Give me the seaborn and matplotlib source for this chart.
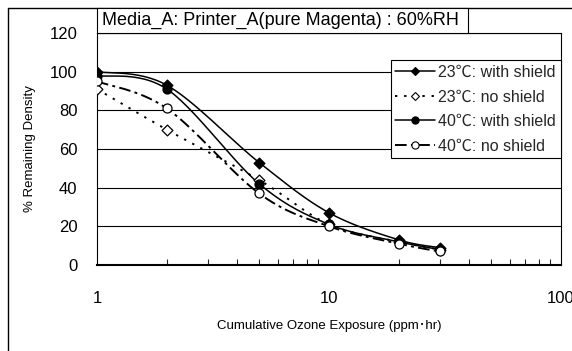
import numpy as np
import pandas as pd
import matplotlib
matplotlib.use("Agg")
import matplotlib.pyplot as plt
from matplotlib.lines import Line2D
from matplotlib.patches import Rectangle
import seaborn as sns

# ---- data ----
exposure = [1, 2, 5, 10, 20, 30]
series_names = ["23℃: with shield", "23℃: no shield", "40℃: with shield", "40℃: no shield"]
d23_shield = [100, 93, 53, 27, 13, 9]
d23_noshield = [91, 70, 44, 21, 12, 8]
d40_shield = [98, 91, 42, 21, 12, 8]
d40_noshield = [95, 81, 37, 20, 11, 7]
y_ticks = [0, 20, 40, 60, 80, 100, 120]
x_ticks = [1, 10, 100]
x_tick_labels = ["1", "10", "100"]
title = "Media_A: Printer_A(pure Magenta) : 60%RH"
x_label = "Cumulative Ozone Exposure (ppm･hr)"
y_label = "% Remaining Density"

sns.set_theme(style="white")
FAM = ["Liberation Sans", "Noto Sans CJK JP", "DejaVu Sans"]
plt.rcParams["font.family"] = FAM


def smooth_path(xs, ys, n=30):
    """Catmull-Rom smoothing in log-x space (Excel-like smoothed line)."""
    lx = np.log10(np.asarray(xs, float))
    yy = np.asarray(ys, float)
    px = np.concatenate([[lx[0]], lx, [lx[-1]]])
    py = np.concatenate([[yy[0]], yy, [yy[-1]]])
    outx, outy = [], []
    t = np.linspace(0, 1, n)
    for i in range(1, len(px) - 2):
        p0x, p1x, p2x, p3x = px[i - 1], px[i], px[i + 1], px[i + 2]
        p0y, p1y, p2y, p3y = py[i - 1], py[i], py[i + 1], py[i + 2]
        c1x = p1x + (p2x - p0x) / 6
        c1y = p1y + (p2y - p0y) / 6
        c2x = p2x - (p3x - p1x) / 6
        c2y = p2y - (p3y - p1y) / 6
        bx = (1 - t) ** 3 * p1x + 3 * (1 - t) ** 2 * t * c1x + 3 * (1 - t) * t ** 2 * c2x + t ** 3 * p2x
        by = (1 - t) ** 3 * p1y + 3 * (1 - t) ** 2 * t * c1y + 3 * (1 - t) * t ** 2 * c2y + t ** 3 * p2y
        outx.extend(bx)
        outy.extend(by)
    return 10 ** np.array(outx), np.array(outy)


fig = plt.figure(figsize=(5.72, 3.51), dpi=100)
ax = fig.add_axes([97 / 572, 86 / 351, 464 / 572, 232 / 351])

styles = [
    dict(ls="-", dashes=None, marker="D", mfc="black", ms=5.5),
    dict(ls="--", dashes=(1.2, 3.5), marker="D", mfc="white", ms=5.5),
    dict(ls="-", dashes=None, marker="o", mfc="black", ms=6.5),
    dict(ls="--", dashes=(6, 2.2, 1.5, 2.2), marker="o", mfc="white", ms=6.5),
]
all_series = [d23_shield, d23_noshield, d40_shield, d40_noshield]

# horizontal gridlines
for yv in y_ticks[1:]:
    ax.axhline(yv, color="black", lw=0.8, zorder=1)

handles = []
for name, vals, st in zip(series_names, all_series, styles):
    sx, sy = smooth_path(exposure, vals)
    df = pd.DataFrame({"x": sx, "y": sy})
    lw = 1.1 if st["ls"] == "-" else 1.4
    sns.lineplot(data=df, x="x", y="y", ax=ax, color="black", lw=lw,
                 sort=False, estimator=None, zorder=3)
    line = ax.lines[-1]
    if st["dashes"] is not None:
        line.set_dashes(st["dashes"])
    pts = pd.DataFrame({"x": exposure, "y": vals})
    sns.scatterplot(data=pts, x="x", y="y", ax=ax, marker=st["marker"],
                    s=st["ms"] ** 2, facecolor=st["mfc"], edgecolor="black",
                    linewidth=0.9, zorder=4)
    h = Line2D([], [], color="black", lw=lw, marker=st["marker"],
               markersize=st["ms"] * 0.8, markerfacecolor=st["mfc"],
               markeredgecolor="black", markeredgewidth=0.8)
    if st["dashes"] is not None:
        h.set_dashes(st["dashes"])
    handles.append(h)

ax.set_xscale("log")
ax.set_xlim(1, 100)
ax.set_ylim(0, 120)
ax.set_xticks(x_ticks)
ax.set_xticklabels(x_tick_labels)
ax.set_yticks(y_ticks)
ax.tick_params(axis="x", which="major", direction="in", length=5, width=0.8,
               pad=19, labelsize=12, colors="black")
ax.tick_params(axis="x", which="minor", direction="in", length=4, width=0.8,
               bottom=True)
ax.tick_params(axis="y", length=0, pad=14, labelsize=12, labelcolor="black")
for lab in ax.get_xticklabels() + ax.get_yticklabels():
    lab.set_family(FAM)

for sp in ["left", "right", "top"]:
    ax.spines[sp].set_color("black")
    ax.spines[sp].set_linewidth(0.8)
    ax.spines[sp].set_visible(True)
ax.spines["bottom"].set_color("black")
ax.spines["bottom"].set_linewidth(1.5)
ax.spines["bottom"].set_visible(True)

ax.set_xlabel(x_label, fontsize=9.5, color="black")
ax.set_ylabel(y_label, fontsize=9.5, color="black")
ax.xaxis.set_label_coords((329 - 97) / 464, (265 - 326) / 232)
ax.yaxis.set_label_coords((30 - 97) / 464, 0.5)
ax.xaxis.label.set_verticalalignment("center")
ax.yaxis.label.set_verticalalignment("center")

leg = ax.legend(handles, series_names, loc="upper right",
                bbox_to_anchor=(1.0, (265 - 60) / 232), borderaxespad=0,
                frameon=True, fancybox=False, edgecolor="black", framealpha=1,
                fontsize=11.5, handlelength=2.5, handletextpad=0.2,
                labelspacing=0.6, borderpad=0.3)
leg.get_frame().set_linewidth(0.8)
leg.set_zorder(6)

# outer chart-area border (top and left)
fig.add_artist(Line2D([8 / 572, 8 / 572], [0, 1 - 8 / 351], color="black",
                      lw=1.0, transform=fig.transFigure))
fig.add_artist(Line2D([8 / 572, 1], [1 - 8 / 351, 1 - 8 / 351], color="black",
                      lw=1.0, transform=fig.transFigure))

# title box
fig.add_artist(Rectangle((97 / 572, 1 - 33 / 351), (468 - 97) / 572, 25 / 351,
                         transform=fig.transFigure, facecolor="white",
                         edgecolor="black", lw=0.8, zorder=5))
fig.text(102 / 572, 1 - 20.5 / 351, title, fontsize=13, ha="left", va="center",
         color="black", zorder=6)

fig.savefig("out.png", dpi=100)
